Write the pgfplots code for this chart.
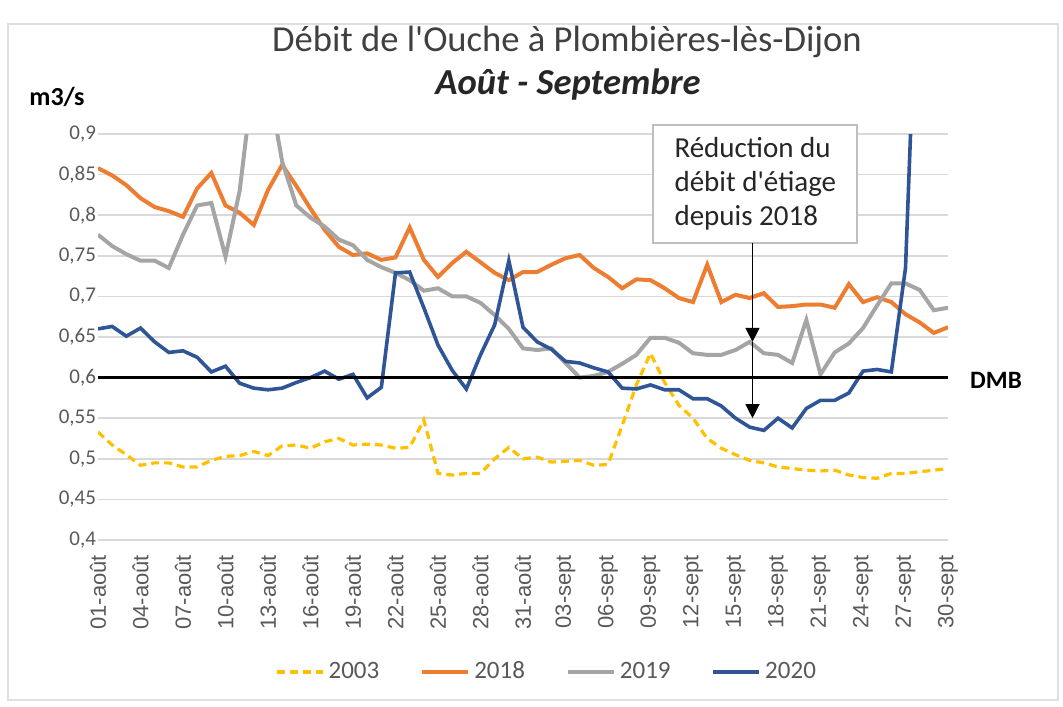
\documentclass[border=0pt]{standalone}
\usepackage{fontspec}
\setmainfont{Carlito}[Ligatures=TeXOff]
\newfontfamily\arialf{Liberation Sans}
\usepackage{pgfplots}
\usepackage{pgfplotstable}
\pgfplotsset{compat=1.18}
\usetikzlibrary{arrows.meta,calc}

\definecolor{c2003}{RGB}{255,192,0}
\definecolor{c2018}{RGB}{237,125,49}
\definecolor{c2019}{RGB}{165,165,165}
\definecolor{c2020}{RGB}{47,85,151}
\definecolor{gridgray}{RGB}{217,217,217}
\definecolor{txtgray}{RGB}{89,89,89}

% debit journalier (m3/s), jour 0 = 01-aout ... jour 60 = 30-sept
\pgfplotstableread{
i  y2003 y2018 y2019 y2020
0  0.533 0.858 0.776 0.660
1  0.517 0.849 0.762 0.663
2  0.505 0.837 0.752 0.651
3  0.492 0.821 0.744 0.661
4  0.495 0.810 0.744 0.644
5  0.495 0.805 0.735 0.631
6  0.490 0.798 0.776 0.633
7  0.490 0.833 0.812 0.625
8  0.498 0.852 0.815 0.607
9  0.503 0.812 0.749 0.614
10 0.504 0.803 0.830 0.593
11 0.509 0.788 0.975 0.587
12 0.504 0.831 0.965 0.585
13 0.516 0.862 0.866 0.587
14 0.517 0.836 0.812 0.594
15 0.513 0.808 0.797 0.600
16 0.521 0.782 0.786 0.608
17 0.525 0.761 0.770 0.598
18 0.517 0.751 0.763 0.604
19 0.518 0.753 0.745 0.575
20 0.517 0.745 0.736 0.588
21 0.513 0.748 0.729 0.729
22 0.514 0.785 0.720 0.730
23 0.548 0.745 0.707 0.686
24 0.482 0.724 0.710 0.640
25 0.480 0.741 0.700 0.609
26 0.482 0.755 0.700 0.586
27 0.482 0.742 0.692 0.628
28 0.500 0.729 0.677 0.665
29 0.514 0.720 0.660 0.744
30 0.500 0.730 0.636 0.662
31 0.502 0.730 0.634 0.644
32 0.496 0.739 0.636 0.635
33 0.497 0.747 0.618 0.620
34 0.498 0.751 0.600 0.618
35 0.492 0.735 0.602 0.612
36 0.493 0.724 0.607 0.607
37 0.541 0.710 0.617 0.587
38 0.591 0.721 0.628 0.586
39 0.630 0.720 0.649 0.591
40 0.594 0.710 0.649 0.585
41 0.566 0.698 0.643 0.585
42 0.550 0.693 0.630 0.574
43 0.525 0.739 0.628 0.574
44 0.513 0.693 0.628 0.565
45 0.505 0.702 0.634 0.550
46 0.498 0.698 0.644 0.539
47 0.495 0.704 0.630 0.535
48 0.490 0.687 0.628 0.550
49 0.488 0.688 0.618 0.538
50 0.486 0.690 0.671 0.562
51 0.485 0.690 0.604 0.572
52 0.486 0.686 0.631 0.572
53 0.480 0.715 0.642 0.581
54 0.477 0.693 0.661 0.608
55 0.476 0.699 0.689 0.610
56 0.482 0.693 0.716 0.607
57 0.482 0.678 0.716 0.735
58 0.484 0.668 0.708 1.200
59 0.486 0.655 0.683 1.100
60 0.488 0.662 0.686 1.000
}\debit

\begin{document}
\begin{tikzpicture}[x=1pt,y=1pt]
\useasboundingbox (0,0) rectangle (531.5,353);
\draw[gray!25, line width=0.75pt] (4,3) rectangle (529,341);

\begin{axis}[
    at={(49pt,83pt)}, anchor=south west,
    scale only axis, width=425pt, height=203pt,
    xmin=0, xmax=60, ymin=0.4, ymax=0.9,
    axis line style={draw=none},
    tick style={draw=none},
    ytick={0.4,0.45,0.5,0.55,0.6,0.65,0.7,0.75,0.8,0.85,0.9},
    ymajorgrids,
    grid style={color=gridgray, line width=0.75pt},
    /pgf/number format/assume math mode=true,
    yticklabel style={/pgf/number format/.cd, use comma, fixed, precision=2,
        /tikz/.cd, font=\fontsize{10.5}{12}\selectfont, text=txtgray, xshift=2.5pt},
    xtick={0,3,...,60},
    xticklabels={01-août,04-août,07-août,10-août,13-août,16-août,19-août,
        22-août,25-août,28-août,31-août,03-sept,06-sept,09-sept,12-sept,
        15-sept,18-sept,21-sept,24-sept,27-sept,30-sept},
    xticklabel style={rotate=90, anchor=east, xshift=-4pt,
        font=\arialf\fontsize{11}{13}\selectfont, text=txtgray},
    legend columns=4,
    legend style={draw=none, at={(0.529,-0.325)}, anchor=center,
        font=\fontsize{12.5}{14}\selectfont, text=txtgray,
        /tikz/every even column/.append style={column sep=18.5pt}},
    legend image code/.code={\draw[#1] (0pt,0pt) -- (23pt,0pt);},
]
\addplot[c2003, line width=1.6pt, dash pattern=on 4pt off 2.5pt] table[x=i, y=y2003] {\debit};
\addplot[c2018, line width=2pt] table[x=i, y=y2018] {\debit};
\addplot[c2019, line width=2pt] table[x=i, y=y2019] {\debit};
\addplot[c2020, line width=1.8pt] table[x=i, y=y2020] {\debit};
\addplot[black, line width=1.5pt, forget plot] coordinates {(0,0.6) (60,0.6)};
\legend{2003, 2018, 2019, 2020}

\coordinate (bl) at (axis cs:39.2,0.766);
\coordinate (tr) at (axis cs:53.6,0.911);
\coordinate (a1) at (axis cs:46.2,0.766);
\coordinate (a2) at (axis cs:46.2,0.644);
\coordinate (a3) at (axis cs:46.2,0.550);
\end{axis}

% annotation
\draw[gray!50, line width=1pt, fill=white] (bl) rectangle (tr);
\node[align=left, font=\fontsize{14.5}{17}\selectfont, text=black!85]
    at ($(bl)!0.5!(tr)$) {Réduction du\\débit d'étiage\\depuis 2018};
\draw[line width=0.6pt, -{Triangle[length=7pt, width=7pt]}] (a1) -- (a2);
\draw[line width=0.6pt, -{Triangle[length=7pt, width=7pt]}] (a2) -- (a3);

% titres
\node[font=\fontsize{18.3}{21}\selectfont, text=black!75] at (283.5,332) {Débit de l'Ouche à Plombières-lès-Dijon};
\node[font=\bfseries\itshape\fontsize{18.3}{21}\selectfont, text=black!85] at (284,310.5) {Août - Septembre};
\node[font=\bfseries\fontsize{13}{15}\selectfont] at (28.5,304.5) {m3/s};
\node[font=\bfseries\fontsize{12.5}{15}\selectfont] at (498,163) {DMB};
\end{tikzpicture}
\end{document}
